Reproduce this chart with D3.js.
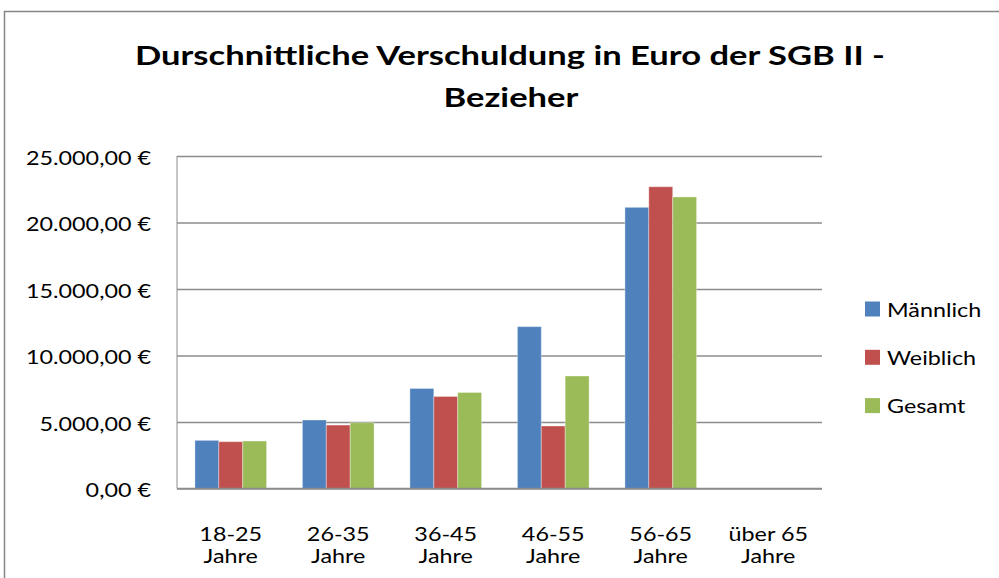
<!DOCTYPE html>
<html>
<head>
<meta charset="utf-8">
<script src="https://cdn.jsdelivr.net/npm/d3@7"></script>
<style>
  body { margin: 0; background: #fff; }
  svg { display: block; font-family: Lato, "Open Sans", sans-serif; }
</style>
</head>
<body>
<div id="chart"></div>
<script>
const categories = [["18-25", "Jahre"], ["26-35", "Jahre"], ["36-45", "Jahre"], ["46-55", "Jahre"], ["56-65", "Jahre"], ["über 65", "Jahre"]];
const seriesNames = ["Männlich", "Weiblich", "Gesamt"];
const maennlich = [3620, 5150, 7520, 12170, 21140, 0];
const weiblich = [3520, 4770, 6920, 4700, 22690, 0];
const gesamt = [3570, 4950, 7220, 8460, 21920, 0];
const yTicks = [0, 5000, 10000, 15000, 20000, 25000];
const colors = ["#4F81BD", "#C0504D", "#9BBB59"];

const width = 999, height = 578;
const plot = { left: 177, right: 822, top: 156, bottom: 488.5 };

const svg = d3.select("#chart").append("svg")
    .attr("width", width)
    .attr("height", height);

// the source picture is wider than Calibri, so text is stretched to match
function stretch(sel, factor) {
  sel.each(function () {
    const w = this.getComputedTextLength();
    d3.select(this).attr("textLength", w * factor).attr("lengthAdjust", "spacingAndGlyphs");
  });
}
function widthOf(sel) {
  return sel.node().getComputedTextLength();
}

// outer chart frame
svg.append("rect")
    .attr("x", 4.5).attr("y", 11.5)
    .attr("width", 1010).attr("height", 600)
    .attr("fill", "none").attr("stroke", "#868686").attr("stroke-width", 1.5);

// title
const titleStyle = sel => sel.attr("text-anchor", "middle")
    .attr("font-weight", "bold")
    .attr("font-size", 27.5)
    .attr("fill", "#000");
const t1 = svg.append("text").call(titleStyle).attr("x", 510).attr("y", 65)
    .text("Durschnittliche Verschuldung in Euro der SGB II -");
const t2 = svg.append("text").call(titleStyle).attr("x", 511).attr("y", 107)
    .text("Bezieher");
const titleFactor = 750 / widthOf(t1);
stretch(t1, titleFactor);
stretch(t2, titleFactor);

const x0 = d3.scaleBand()
    .domain(categories.map(d => d[0]))
    .range([plot.left, plot.right])
    .paddingInner(1 / 3)
    .paddingOuter(1 / 6);

const x1 = d3.scaleBand()
    .domain(seriesNames)
    .range([0, x0.bandwidth()]);

const y = d3.scaleLinear()
    .domain([0, 25000])
    .range([plot.bottom, plot.top]);

const fmt = v => d3.format(",.2f")(v).replace(/,/g, "#").replace(".", ",").replace(/#/g, ".") + " €";

// gridlines
svg.append("g")
    .attr("transform", `translate(${plot.left},0)`)
    .call(d3.axisLeft(y).tickValues(yTicks).tickFormat("").tickSize(-(plot.right - plot.left)))
    .call(g => g.select(".domain").remove())
    .call(g => g.selectAll("line").attr("stroke", "#8c8c8c").attr("stroke-width", 1.5));

// left axis line
svg.append("line")
    .attr("x1", plot.left).attr("x2", plot.left)
    .attr("y1", plot.top).attr("y2", plot.bottom)
    .attr("stroke", "#8c8c8c").attr("stroke-width", 1);

// y labels
const yLabels = svg.append("g")
    .selectAll("text")
    .data(yTicks)
    .join("text")
    .attr("x", 151)
    .attr("y", d => y(d) + 8.5)
    .attr("text-anchor", "end")
    .attr("font-size", 18.5)
    .text(fmt);
const yFactor = 125 / widthOf(yLabels.filter(d => d === 25000));
stretch(yLabels, yFactor);

// bars
const series = [maennlich, weiblich, gesamt];
categories.forEach((cat, i) => {
    const g = svg.append("g").attr("transform", `translate(${x0(cat[0])},0)`);
    g.selectAll("rect")
        .data(seriesNames.map((name, s) => ({ name, value: series[s][i], color: colors[s] })))
        .join("rect")
        .attr("x", d => x1(d.name))
        .attr("y", d => y(d.value))
        .attr("width", x1.bandwidth())
        .attr("height", d => y(0) - y(d.value))
        .attr("fill", d => d.color)
        .attr("stroke", "#fff")
        .attr("stroke-opacity", 0.35)
        .attr("stroke-width", 1);
});

// x axis line
svg.append("line")
    .attr("x1", plot.left).attr("x2", plot.right)
    .attr("y1", plot.bottom).attr("y2", plot.bottom)
    .attr("stroke", "#8c8c8c").attr("stroke-width", 1.5);

// x labels, two lines each
const xg = svg.append("g");
const xTop = xg.selectAll("text.top")
    .data(categories)
    .join("text")
    .attr("class", "top")
    .attr("x", d => x0(d[0]) + x0.bandwidth() / 2)
    .attr("y", 541)
    .attr("text-anchor", "middle")
    .attr("font-size", 18.5)
    .text(d => d[0]);
const xBottom = xg.selectAll("text.bottom")
    .data(categories)
    .join("text")
    .attr("class", "bottom")
    .attr("x", d => x0(d[0]) + x0.bandwidth() / 2)
    .attr("y", 563)
    .attr("text-anchor", "middle")
    .attr("font-size", 18.5)
    .text(d => d[1]);
stretch(xTop, yFactor);
stretch(xBottom, yFactor);

// legend
const legend = svg.append("g")
    .selectAll("g")
    .data(seriesNames)
    .join("g")
    .attr("transform", (d, i) => `translate(865,${309 + i * 48.3})`);
legend.append("rect")
    .attr("x", 0).attr("y", -7.5)
    .attr("width", 15).attr("height", 15)
    .attr("fill", (d, i) => colors[i]);
const legText = legend.append("text")
    .attr("x", 22)
    .attr("y", 7.5)
    .attr("font-size", 18.5)
    .text(d => d);
stretch(legText, yFactor);
</script>
</body>
</html>
